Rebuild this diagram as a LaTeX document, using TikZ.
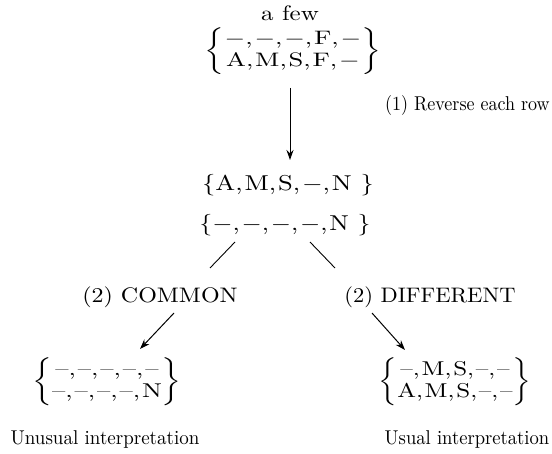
\documentclass[tikz,border=0pt]{standalone}
\usepackage{amsmath}
\usetikzlibrary{arrows.meta}
\newcommand{\twoset}[2]{$\left\{\renewcommand{\arraystretch}{0.95}\begin{tabular}{@{}c@{}}#1\\#2\end{tabular}\right\}$}
\newcommand{\dm}{$-$}
\newcommand{\dd}{\textendash}
\newcommand{\cm}{,\kern0.7pt}
\newcommand{\sx}[3]{\scalebox{#1}[#2]{#3}}
\begin{document}
\begin{tikzpicture}[x=1pt,y=-1pt,
  lbl/.style={inner sep=0pt},
  arr/.style={-{Stealth[length=10pt,width=7pt]},line width=1pt},
  ln/.style={line width=0.9pt}]
\useasboundingbox (0,0) rectangle (552,454);
\node[lbl] (few) at (290,13) {\sx{2.5}{2.1}{a few}};
\node[lbl] (top) at (293,51) {\sx{2.65}{1.95}{\twoset{\dm\cm\dm\cm\dm\cm F\cm\dm}{A\cm M\cm S\cm F\cm\dm}}};
\node[lbl] (mid1) at (288,185) {\sx{2.65}{2.15}{\{A\cm M\cm S\cm\dm\cm N \}}};
\node[lbl] (mid2) at (285,225) {\sx{2.6}{2.15}{\{\dm\cm\dm\cm\dm\cm\dm\cm N \}}};
\node[lbl,anchor=west] (rev) at (385,106) {\sx{1.8}{2}{(1) Reverse each row}};
\node[lbl] (common) at (160,297) {\sx{2.4}{2.1}{(2) COMMON}};
\node[lbl] (diff) at (430,297) {\sx{2.25}{2.1}{(2) DIFFERENT}};
\node[lbl] (left) at (107,382) {\sx{2.65}{2}{\twoset{\dd\cm\dd\cm\dd\cm\dd\cm\dd}{\dd\cm\dd\cm\dd\cm\dd\cm N}}};
\node[lbl] (right) at (455,382) {\sx{2.5}{2}{\twoset{\dd\cm M\cm S\cm\dd\cm\dd}{A\cm M\cm S\cm\dd\cm\dd}}};
\node[lbl] (unus) at (105,440) {\sx{1.9}{2}{Unusual interpretation}};
\node[lbl] (usu) at (467,440) {\sx{1.86}{2}{Usual interpretation}};
\coordinate (a1) at (290,88);
\coordinate (a2) at (290,160);
\draw[arr] (a1) -- (a2);
\coordinate (l1) at (235,242);
\coordinate (l2) at (210,268);
\coordinate (r1) at (310,242);
\coordinate (r2) at (335,268);
\draw[ln] (l1) -- (l2);
\draw[ln] (r1) -- (r2);
\coordinate (b1) at (174,313);
\coordinate (b2) at (140,349);
\coordinate (c1) at (372,313);
\coordinate (c2) at (405,350);
\draw[arr] (b1) -- (b2);
\draw[arr] (c1) -- (c2);
\end{tikzpicture}
\end{document}
